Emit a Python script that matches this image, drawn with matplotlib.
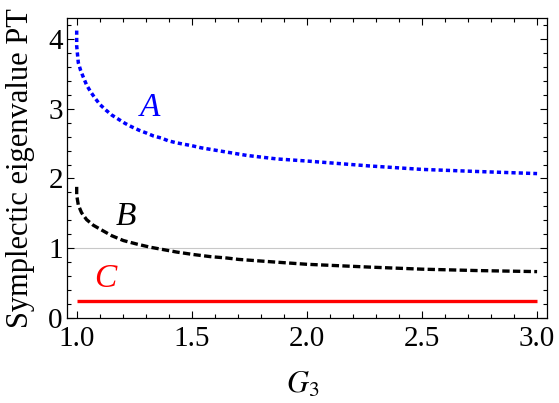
import matplotlib
matplotlib.use("Agg")
import matplotlib.pyplot as plt
from matplotlib.ticker import MultipleLocator

plt.rcParams['font.family'] = ['Liberation Serif', 'DejaVu Serif']
plt.rcParams['mathtext.fontset'] = 'stix'

# curve values
g3_a = [1.0, 1.0, 1.007, 1.017, 1.029, 1.043, 1.061, 1.08, 1.101, 1.127,
        1.152, 1.181, 1.21, 1.239, 1.272, 1.304, 1.333, 1.367, 1.398, 1.435,
        1.467, 1.5, 1.54, 1.63, 1.74, 1.87, 2.0, 2.27, 2.5, 2.74, 3.0]
pt_a = [4.12, 3.90, 3.66, 3.55, 3.45, 3.34, 3.24, 3.15, 3.06, 2.98,
        2.91, 2.85, 2.79, 2.74, 2.69, 2.65, 2.61, 2.58, 2.54, 2.51,
        2.49, 2.47, 2.44, 2.39, 2.33, 2.28, 2.25, 2.18, 2.13, 2.10, 2.07]

g3_b = [1.0, 1.0, 1.007, 1.021, 1.043, 1.072, 1.109, 1.152, 1.203, 1.261,
        1.319, 1.377, 1.435, 1.507, 1.58, 1.652, 1.703, 1.87, 2.0, 2.27,
        2.5, 2.74, 3.0]
pt_b = [1.88, 1.76, 1.62, 1.51, 1.41, 1.33, 1.26, 1.18, 1.11, 1.06,
        1.015, 0.98, 0.945, 0.91, 0.88, 0.86, 0.84, 0.80, 0.77, 0.73,
        0.70, 0.68, 0.665]

g3_c = [1.0, 3.0]
pt_c = [0.25, 0.25]

fig = plt.figure(figsize=(5.59, 4.03), dpi=100)
ax = fig.add_axes([0.1199, 0.2109, 0.8586, 0.7444])

ax.axhline(1.0, color='#c8c8c8', lw=0.8, zorder=1)
ax.plot(g3_c, pt_c, color='#ff0000', lw=2.4, solid_capstyle='butt')
ax.plot(g3_b, pt_b, color='black', lw=2.4, dashes=(2.2, 1.0))
ax.plot(g3_a, pt_a, color='#0000ff', lw=2.5, dashes=(1.2, 0.9))

ax.text(1.32, 3.01, 'A', color='#0000ff', fontsize=24, style='italic',
        ha='center', va='center')
ax.text(1.213, 1.455, 'B', color='black', fontsize=24, style='italic',
        ha='center', va='center')
ax.text(1.126, 0.56, 'C', color='#ff0000', fontsize=24, style='italic',
        ha='center', va='center')

ax.set_xlim(0.958, 3.043)
ax.set_ylim(0, 4.3)
ax.xaxis.set_major_locator(MultipleLocator(0.5))
ax.xaxis.set_minor_locator(MultipleLocator(0.1))
ax.yaxis.set_major_locator(MultipleLocator(1))
ax.yaxis.set_minor_locator(MultipleLocator(0.2))
ax.set_xticks([1.0, 1.5, 2.0, 2.5, 3.0])
ax.set_xticklabels(['1.0', '1.5', '2.0', '2.5', '3.0'])
ax.tick_params(which='both', direction='in', top=True, right=True,
               labelsize=21, width=0.8)
ax.tick_params(axis='x', pad=6)
ax.tick_params(axis='y', pad=3)
ax.tick_params(which='major', length=5)
ax.tick_params(which='minor', length=3)
for s in ax.spines.values():
    s.set_linewidth(0.9)

ax.set_xlabel('$G_3$', fontsize=22)
ax.xaxis.set_label_coords(0.49, -0.175)
ax.set_ylabel('Symplectic eigenvalue PT', fontsize=22)
ax.yaxis.set_label_coords(-0.067, 0.5)

fig.savefig('out.png', dpi=100)
